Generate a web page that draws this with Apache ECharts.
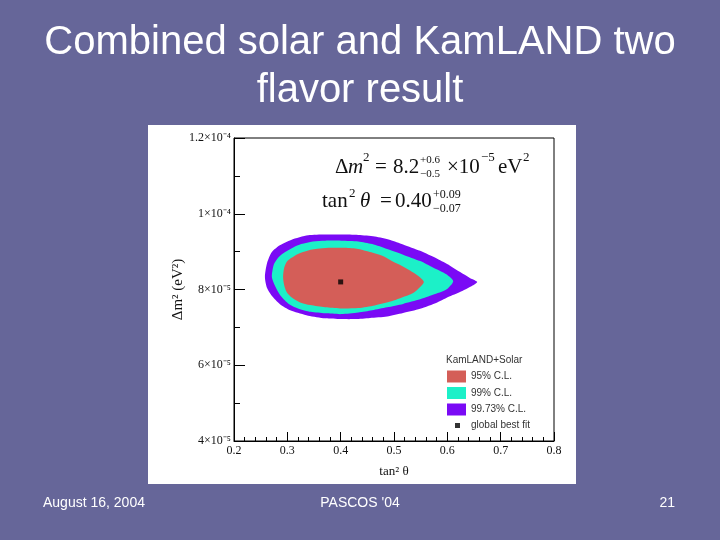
<!DOCTYPE html>
<html><head><meta charset="utf-8">
<script src="https://cdn.jsdelivr.net/npm/echarts/dist/echarts.min.js"></script>
<style>html,body{margin:0;padding:0;background:#666699;}#c{width:720px;height:540px;}</style>
</head><body><div id="c"></div>
<script>
// tan^2(theta) vs delta m^2 (in units of 1e-5 eV^2)
const contour9973 = [[0.258,8.33],[0.262,8.70],[0.271,8.99],[0.286,9.17],[0.307,9.31],[0.339,9.43],[0.371,9.45],[0.401,9.45],[0.433,9.44],[0.464,9.40],[0.493,9.31],[0.517,9.19],[0.549,9.02],[0.581,8.81],[0.605,8.63],[0.624,8.46],[0.643,8.30],[0.656,8.20],[0.643,8.07],[0.628,7.96],[0.605,7.82],[0.581,7.66],[0.549,7.49],[0.517,7.38],[0.487,7.29],[0.455,7.25],[0.427,7.22],[0.401,7.22],[0.371,7.24],[0.339,7.31],[0.309,7.43],[0.288,7.59],[0.273,7.80],[0.262,8.04]];
const contour99 = [[0.271,8.33],[0.275,8.67],[0.284,8.86],[0.296,8.99],[0.311,9.11],[0.326,9.20],[0.348,9.27],[0.371,9.29],[0.401,9.29],[0.433,9.27],[0.459,9.20],[0.487,9.07],[0.517,8.92],[0.549,8.75],[0.573,8.58],[0.598,8.40],[0.611,8.22],[0.598,8.00],[0.573,7.86],[0.549,7.74],[0.517,7.62],[0.487,7.53],[0.459,7.45],[0.433,7.39],[0.401,7.35],[0.371,7.37],[0.344,7.41],[0.320,7.50],[0.301,7.64],[0.286,7.86],[0.277,8.09]];
const contour95 = [[0.292,8.33],[0.294,8.57],[0.299,8.73],[0.307,8.83],[0.320,8.94],[0.339,9.03],[0.361,9.08],[0.382,9.10],[0.408,9.10],[0.433,9.07],[0.455,8.99],[0.478,8.89],[0.496,8.75],[0.515,8.62],[0.530,8.50],[0.545,8.36],[0.556,8.20],[0.547,8.04],[0.536,7.91],[0.515,7.79],[0.493,7.68],[0.464,7.58],[0.433,7.51],[0.399,7.50],[0.371,7.53],[0.343,7.59],[0.324,7.66],[0.309,7.78],[0.299,7.93],[0.294,8.12]];
const bestFit = [[0.40, 8.2]];
const seriesNames = ['95% C.L.', '99% C.L.', '99.73% C.L.', 'global best fit'];
const seriesColors = ['#d45e58', '#1cf0c8', '#7a0af5', '#000000'];
const yTickValues = [4, 6, 8, 10, 12];
const yTickLabels = ['4×10⁻⁵', '6×10⁻⁵', '8×10⁻⁵', '1×10⁻⁴', '1.2×10⁻⁴'];
const xTickValues = [0.2, 0.3, 0.4, 0.5, 0.6, 0.7, 0.8];
const xTickLabels = ['0.2', '0.3', '0.4', '0.5', '0.6', '0.7', '0.8'];

const SERIF = "'Liberation Serif','Times New Roman',serif";
const SANS = "'Liberation Sans',Arial,sans-serif";

function polySeries(name, pts, color) {
  return {
    type: 'custom', name: name, coordinateSystem: 'cartesian2d',
    data: pts, encode: { x: 0, y: 1 }, itemStyle: { color: color },
    silent: true, animation: false,
    renderItem: function (params, api) {
      if (params.dataIndex !== 0) return null;
      const points = pts.map(function (p) { return api.coord(p); });
      return { type: 'polygon', shape: { points: points, smooth: 0.25 }, style: { fill: color, stroke: null } };
    }
  };
}

function txt(x, y, text, size, opts) {
  opts = opts || {};
  return {
    type: 'text', z: 10,
    style: {
      x: x, y: y, text: text,
      fontSize: size, fontFamily: opts.family || SERIF,
      fontStyle: opts.italic ? 'italic' : 'normal',
      fill: opts.color || '#111',
      align: opts.align || 'left', verticalAlign: 'middle'
    }
  };
}

const chart = echarts.init(document.getElementById('c'), null, { renderer: 'canvas' });
chart.setOption({
  animation: false,
  backgroundColor: '#666699',
  grid: { left: 234, right: 166, top: 138, bottom: 99, show: true, borderColor: '#000', borderWidth: 1, backgroundColor: 'transparent', outerBoundsMode: 'none', containLabel: false },
  xAxis: {
    type: 'value', min: 0.2, max: 0.8, interval: 0.1,
    name: 'tan² θ', nameLocation: 'middle', nameGap: 24,
    nameTextStyle: { fontFamily: SERIF, fontSize: 13, color: '#111' },
    axisLine: { lineStyle: { color: '#000', width: 1 } },
    axisTick: { inside: true, length: 9, lineStyle: { color: '#000' } },
    minorTick: { show: true, splitNumber: 5, length: 4, lineStyle: { color: '#000' } },
    splitLine: { show: false },
    axisLabel: { margin: 4, fontFamily: SERIF, fontSize: 12, color: '#111',
      formatter: function (v) { const i = xTickValues.findIndex(t => Math.abs(t - v) < 1e-6); return i >= 0 ? xTickLabels[i] : ''; } }
  },
  yAxis: {
    type: 'value', min: 4, max: 12, interval: 2,
    name: 'Δm² (eV²)', nameLocation: 'middle', nameGap: 44,
    nameTextStyle: { fontFamily: SERIF, fontSize: 15, color: '#111' },
    axisLine: { lineStyle: { color: '#000', width: 1 } },
    axisTick: { inside: true, length: 11, lineStyle: { color: '#000' } },
    minorTick: { show: true, splitNumber: 2, length: 6, lineStyle: { color: '#000' } },
    splitLine: { show: false },
    axisLabel: { margin: 3, fontFamily: SERIF, fontSize: 12, color: '#111',
      formatter: function (v) { const i = yTickValues.findIndex(t => Math.abs(t - v) < 1e-6); return i >= 0 ? yTickLabels[i] : ''; } }
  },
  legend: [
    { data: seriesNames.slice(0, 3), orient: 'vertical', left: 447, top: 370.5, padding: 0,
      itemWidth: 19, itemHeight: 12, itemGap: 4.5, icon: 'rect', selectedMode: false,
      textStyle: { fontFamily: SANS, fontSize: 10, color: '#333' } },
    { data: [{ name: seriesNames[3], icon: 'rect' }], orient: 'vertical', left: 455, top: 420.5, padding: 0,
      itemWidth: 5, itemHeight: 5, selectedMode: false,
      textStyle: { fontFamily: SANS, fontSize: 10, color: '#333', padding: [0, 0, 0, 6] } }
  ],
  graphic: [
    { type: 'rect', z: -1, shape: { x: 148, y: 125, width: 428, height: 359 }, style: { fill: '#ffffff' } },
    txt(360, 43, 'Combined solar and KamLAND two', 40, { family: SANS, color: '#fff', align: 'center' }),
    txt(360, 91, 'flavor result', 40, { family: SANS, color: '#fff', align: 'center' }),
    txt(43, 503, 'August 16, 2004', 14, { family: SANS, color: '#fff' }),
    txt(360, 503, "PASCOS '04", 14, { family: SANS, color: '#fff', align: 'center' }),
    txt(675, 503, '21', 14, { family: SANS, color: '#fff', align: 'right' }),
    txt(446, 360, 'KamLAND+Solar', 10, { family: SANS, color: '#333' }),
    // formula line 1
    txt(335, 167, 'Δ', 21),
    txt(348, 167, 'm', 21, { italic: true }),
    txt(363, 158, '2', 13),
    txt(375, 167, '=', 21),
    txt(393, 167, '8.2', 21),
    txt(420, 160.5, '+0.6', 11),
    txt(420, 174.5, '−0.5', 11),
    txt(447, 167, '×10', 21),
    txt(481, 158, '−5', 13),
    txt(498, 167, 'eV', 21),
    txt(523, 158, '2', 13),
    // formula line 2
    txt(322, 201, 'tan', 21),
    txt(349, 194, '2', 13),
    txt(360, 201, 'θ', 21, { italic: true }),
    txt(380, 201, '=', 21),
    txt(395, 201, '0.40', 21),
    txt(433, 195, '+0.09', 12),
    txt(433, 209, '−0.07', 12)
  ],
  series: [
    polySeries(seriesNames[2], contour9973, seriesColors[2]),
    polySeries(seriesNames[1], contour99, seriesColors[1]),
    polySeries(seriesNames[0], contour95, seriesColors[0]),
    { type: 'scatter', name: seriesNames[3], data: bestFit, symbol: 'rect', symbolSize: 5, z: 5,
      itemStyle: { color: seriesColors[3] }, silent: true }
  ]
});
</script></body></html>
